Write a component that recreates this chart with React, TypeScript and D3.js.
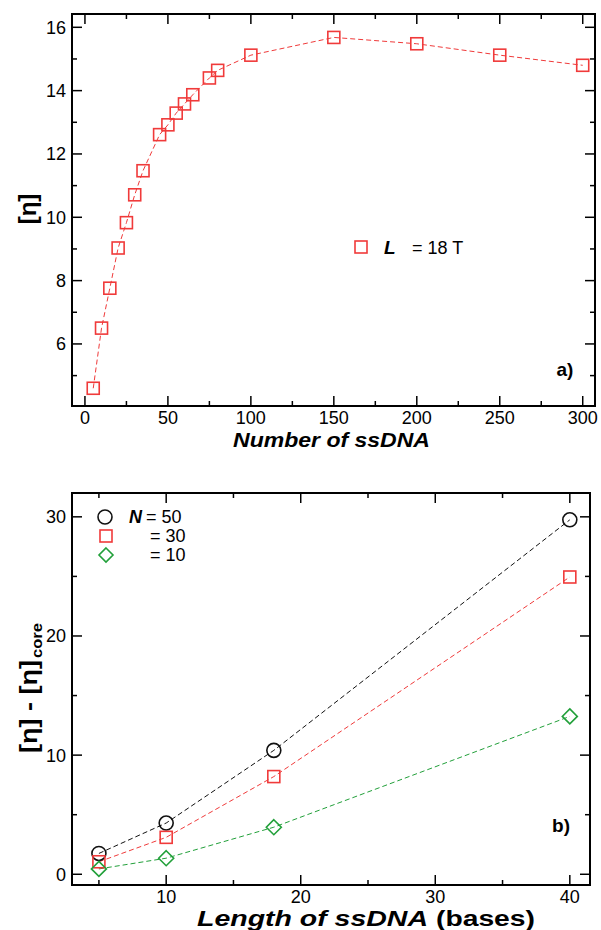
import React from "react";
import * as d3 from "d3";

// ---- Panel a) data ----
const numSsDNA = [5, 10, 15, 20, 25, 30, 35, 45, 50, 55, 60, 65, 75, 80, 100, 150, 200, 250, 300];
const etaL18 = [4.6, 6.5, 7.76, 9.03, 9.83, 10.71, 11.47, 12.61, 12.92, 13.29, 13.58, 13.87, 14.4, 14.64, 15.12, 15.68, 15.48, 15.12, 14.8];
const aXTicks = [0, 50, 100, 150, 200, 250, 300];
const aXMinor = [25, 75, 125, 175, 225, 275];
const aYTicks = [6, 8, 10, 12, 14, 16];
const aYMinor = [5, 7, 9, 11, 13, 15];

// ---- Panel b) data ----
const lengthBases = [5, 10, 18, 40];
const etaN50 = [1.75, 4.3, 10.4, 29.75];
const etaN30 = [1.05, 3.1, 8.2, 24.95];
const etaN10 = [0.45, 1.35, 3.95, 13.25];
const bXTicks = [10, 20, 30, 40];
const bXMinor = [5, 15, 25, 35];
const bYTicks = [0, 10, 20, 30];
const bYMinor = [5, 15, 25];

const RED = "#f03a3a";
const GREEN = "#22a03a";
const BLACK = "#111";
const FONT = "'Liberation Sans', Arial, Helvetica, sans-serif";

function Axes({ fx, fy, xt, xm, yt, ym, xLabelDy }: any) {
  const [x0, x1] = fx.range();
  const [y1, y0] = fy.range();
  const M = 10, m = 5;
  return (
    <g stroke="#000" strokeWidth={1.5} fill="none">
      <rect x={x0} y={y0} width={x1 - x0} height={y1 - y0} strokeWidth={2} />
      {xt.map((v: number) => (
        <g key={"xt" + v}>
          <line x1={fx(v)} x2={fx(v)} y1={y1} y2={y1 - M} />
          <line x1={fx(v)} x2={fx(v)} y1={y0} y2={y0 + M} />
        </g>
      ))}
      {xm.map((v: number) => (
        <g key={"xm" + v}>
          <line x1={fx(v)} x2={fx(v)} y1={y1} y2={y1 - m} />
          <line x1={fx(v)} x2={fx(v)} y1={y0} y2={y0 + m} />
        </g>
      ))}
      {yt.map((v: number) => (
        <g key={"yt" + v}>
          <line x1={x0} x2={x0 + M} y1={fy(v)} y2={fy(v)} />
          <line x1={x1} x2={x1 - M} y1={fy(v)} y2={fy(v)} />
        </g>
      ))}
      {ym.map((v: number) => (
        <g key={"ym" + v}>
          <line x1={x0} x2={x0 + m} y1={fy(v)} y2={fy(v)} />
          <line x1={x1} x2={x1 - m} y1={fy(v)} y2={fy(v)} />
        </g>
      ))}
      <g stroke="none" fill="#000" fontFamily={FONT} fontSize={18}>
        {xt.map((v: number) => (
          <text key={"xl" + v} x={fx(v)} y={y1 + xLabelDy} textAnchor="middle">{v}</text>
        ))}
        {yt.map((v: number) => (
          <text key={"yl" + v} x={x0 - 6} y={fy(v) + 6.5} textAnchor="end">{v}</text>
        ))}
      </g>
    </g>
  );
}

function Square({ x, y, s = 12, color }: any) {
  return <rect x={x - s / 2} y={y - s / 2} width={s} height={s} fill="none" stroke={color} strokeWidth={1.6} />;
}
function Circle({ x, y, r = 7, color }: any) {
  return <circle cx={x} cy={y} r={r} fill="none" stroke={color} strokeWidth={1.6} />;
}
function Diamond({ x, y, r = 7.5, color }: any) {
  return <path d={`M${x},${y - r}L${x + r},${y}L${x},${y + r}L${x - r},${y}Z`} fill="none" stroke={color} strokeWidth={1.6} />;
}

export default function App() {
  // Panel a
  const ax = d3.scaleLinear().domain([-7.8, 307.4]).range([72, 595]);
  const ay = d3.scaleLinear().domain([4.04, 16.42]).range([406, 14]);
  const aPts = numSsDNA.map((x, i) => [x, etaL18[i]] as [number, number]);
  const aLine = d3.line<[number, number]>().x(d => ax(d[0])).y(d => ay(d[1]));

  // Panel b
  const bx = d3.scaleLinear().domain([3, 41.5]).range([72, 590]);
  const by = d3.scaleLinear().domain([-0.9, 32]).range([885, 493]);
  const bLine = d3.line<number>().x((_, i) => bx(lengthBases[i])).y(d => by(d));

  return (
    <svg width={601} height={930} style={{ display: "block", position: "absolute", left: 0, top: 0 }}>
      <rect width={601} height={930} fill="#fff" />
      {/* Panel a */}
      <path d={aLine(aPts) || ""} fill="none" stroke={RED} strokeWidth={1} strokeDasharray="5,3" />
      {aPts.map((p, i) => <Square key={i} x={ax(p[0])} y={ay(p[1])} color={RED} />)}
      <Axes fx={ax} fy={ay} xt={aXTicks} xm={aXMinor} yt={aYTicks} ym={aYMinor} xLabelDy={18} />
      <text x={233} y={447} textLength={197} lengthAdjust="spacingAndGlyphs" fontFamily={FONT} fontSize={20} fontWeight="bold" fontStyle="italic">Number of ssDNA</text>
      <text transform="translate(36,209) rotate(-90)" textAnchor="middle" fontFamily={FONT} fontSize={24} fontWeight="bold">[η]</text>
      <Square x={361} y={247} color={RED} />
      <text x={384} y={254} fontFamily={FONT} fontSize={19} fontWeight="bold" fontStyle="italic">L</text>
      <text x={412} y={254} fontFamily={FONT} fontSize={18}>= 18 T</text>
      <text x={565} y={376} textAnchor="middle" fontFamily={FONT} fontSize={19} fontWeight="bold">a)</text>

      {/* Panel b */}
      <path d={bLine(etaN50) || ""} fill="none" stroke={BLACK} strokeWidth={1} strokeDasharray="5,3" />
      <path d={bLine(etaN30) || ""} fill="none" stroke={RED} strokeWidth={1} strokeDasharray="5,3" />
      <path d={bLine(etaN10) || ""} fill="none" stroke={GREEN} strokeWidth={1} strokeDasharray="5,3" />
      {etaN50.map((v, i) => <Circle key={"c" + i} x={bx(lengthBases[i])} y={by(v)} color={BLACK} />)}
      {etaN30.map((v, i) => <Square key={"s" + i} x={bx(lengthBases[i])} y={by(v)} color={RED} />)}
      {etaN10.map((v, i) => <Diamond key={"d" + i} x={bx(lengthBases[i])} y={by(v)} color={GREEN} />)}
      <Axes fx={bx} fy={by} xt={bXTicks} xm={bXMinor} yt={bYTicks} ym={bYMinor} xLabelDy={18} />
      <text x={197} y={926} textLength={231} lengthAdjust="spacingAndGlyphs" fontFamily={FONT} fontSize={22} fontWeight="bold" fontStyle="italic">Length of ssDNA</text>
      <text x={436} y={926} textLength={99} lengthAdjust="spacingAndGlyphs" fontFamily={FONT} fontSize={22} fontWeight="bold">(bases)</text>
      <text transform="translate(37,753) rotate(-90)" textLength={93} lengthAdjust="spacingAndGlyphs" fontFamily={FONT} fontSize={24} fontWeight="bold">[η] - [η]</text>
      <text transform="translate(42,658) rotate(-90)" textLength={35} lengthAdjust="spacingAndGlyphs" fontFamily={FONT} fontSize={15} fontWeight="bold">core</text>
      <Circle x={105} y={517} color={BLACK} />
      <text x={129} y={523} fontFamily={FONT} fontSize={18} fontWeight="bold" fontStyle="italic">N</text>
      <text x={146} y={523} fontFamily={FONT} fontSize={18}>= 50</text>
      <Square x={106} y={536} color={RED} />
      <text x={150} y={542} fontFamily={FONT} fontSize={18}>= 30</text>
      <Diamond x={106} y={555} r={7} color={GREEN} />
      <text x={150} y={561} fontFamily={FONT} fontSize={18}>= 10</text>
      <text x={561} y={832} textAnchor="middle" fontFamily={FONT} fontSize={19} fontWeight="bold">b)</text>
    </svg>
  );
}
